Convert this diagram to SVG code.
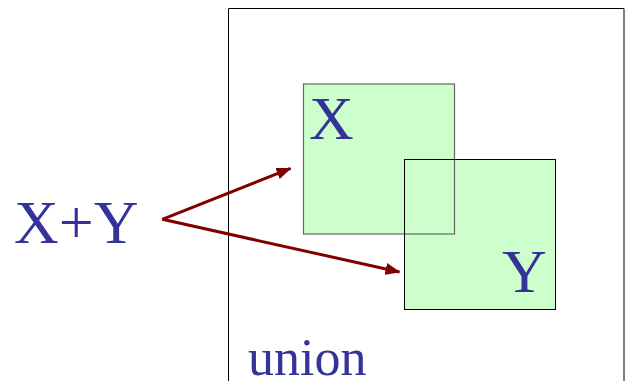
<svg xmlns="http://www.w3.org/2000/svg" width="626" height="381" viewBox="0 0 626 381">
<style>
.lbl{font-family:"Liberation Serif","Times New Roman",serif;fill:#333399}
.sq{fill:#ccffcc}
.conn{stroke:#800000;stroke-width:3;fill:none}
</style>
<defs>
<marker id="ah" markerWidth="15" markerHeight="12" refX="14" refY="6" orient="auto" markerUnits="userSpaceOnUse">
<path d="M0,0 L15,6 L0,12 Z" fill="#800000"/>
</marker>
</defs>
<rect width="626" height="381" fill="#ffffff"/>
<g id="union-frame">
<path d="M228.5,381 V8.5 H624 V381" fill="none" stroke="#000" stroke-width="1"/>
<text class="lbl" x="248" y="375" font-size="52">union</text>
</g>
<g id="fills">
<rect class="sq" x="404.5" y="159.5" width="151" height="150"/>
<rect class="sq" x="303.5" y="84" width="151" height="150"/>
</g>
<g id="X">
<rect x="303.5" y="84" width="151" height="150" fill="none" stroke="#666" stroke-width="1.2"/>
<text class="lbl" x="309" y="139" font-size="62">X</text>
</g>
<g id="Y">
<rect x="404.5" y="159.5" width="151" height="150" fill="none" stroke="#000" stroke-width="1"/>
<text class="lbl" x="502" y="292" font-size="62">Y</text>
</g>
<g id="XplusY">
<text class="lbl" x="14" y="243" font-size="62">X+Y</text>
</g>
<g id="connectors">
<line class="conn" x1="162.3" y1="219.3" x2="290.5" y2="168.3" marker-end="url(#ah)"/>
<line class="conn" x1="162.3" y1="219.3" x2="399.5" y2="272" marker-end="url(#ah)"/>
</g>
</svg>
